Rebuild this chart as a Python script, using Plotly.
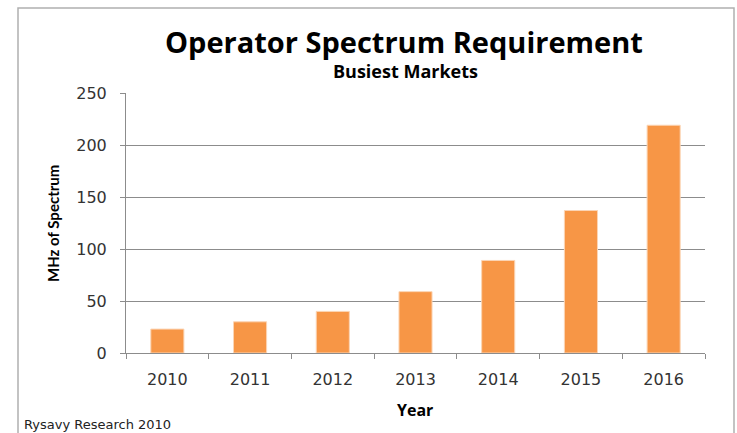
import plotly.graph_objects as go

years = ["2010", "2011", "2012", "2013", "2014", "2015", "2016"]
mhz = [23, 30, 40, 59, 89, 137, 219]
y_ticks = [0, 50, 100, 150, 200, 250]

bar_color = "#f79646"
grid_color = "#8c8c8c"

fig = go.Figure()
fig.add_trace(go.Bar(x=years, y=mhz,
                     marker_color=bar_color,
                     marker_line_color="#fbd5b5",
                     marker_line_width=1,
                     showlegend=False))

# plot area 126 -> 705 px wide, 93 -> 353 px high
L, R, T, B = 126, 32, 93, 80
pw = 737 - L - R
ph = 433 - T - B

def px_x(p):
    return (p - L) / pw

def px_y(p):
    return (433 - B - p) / ph

# chart border
fig.add_shape(type="rect", xref="paper", yref="paper",
              x0=px_x(18), x1=px_x(734), y0=px_y(460), y1=px_y(8),
              line=dict(color="#b0b0b0", width=1.5), layer="below")

def label(text, x, y, size, family="Open Sans", angle=0, xanchor="center", color="black"):
    fig.add_annotation(text=text, xref="paper", yref="paper",
                       x=px_x(x), y=px_y(y), xanchor=xanchor, yanchor="middle",
                       textangle=angle, showarrow=False,
                       font=dict(family=family, size=size, color=color))

label("<b>Operator Spectrum Requirement</b>", 404, 41, 29)
label("<b>Busiest Markets</b>", 405, 71, 18)
label("<b>Year</b>", 415, 410, 16)
label("<b>MHz of Spectrum</b>", 53, 224, 15, family="Lato", angle=-90)
label("Rysavy Research 2010", 22, 424, 13, family="DejaVu Sans", xanchor="left", color="#222222")

fig.update_layout(
    width=737, height=433,
    margin=dict(l=L, r=R, t=T, b=B),
    paper_bgcolor="white", plot_bgcolor="white",
    bargap=0.6,
    font=dict(family="DejaVu Sans", size=16, color="#333333"),
    xaxis=dict(showgrid=False, showline=True, linecolor=grid_color, linewidth=1,
               ticks="outside", ticklen=5, tickcolor=grid_color, tickson="boundaries",
               tickfont=dict(size=16, color="#333333"), ticklabelstandoff=12),
    yaxis=dict(range=[0, 250], tickvals=y_ticks, showgrid=True, gridcolor=grid_color,
               gridwidth=1, showline=True, linecolor=grid_color, linewidth=1,
               ticks="outside", ticklen=5, tickcolor=grid_color, zeroline=False,
               tickfont=dict(size=16, color="#333333"), ticklabelstandoff=10),
)

fig.write_html("out.html", config={"displayModeBar": False},
               post_script="document.body.style.margin='0';")
